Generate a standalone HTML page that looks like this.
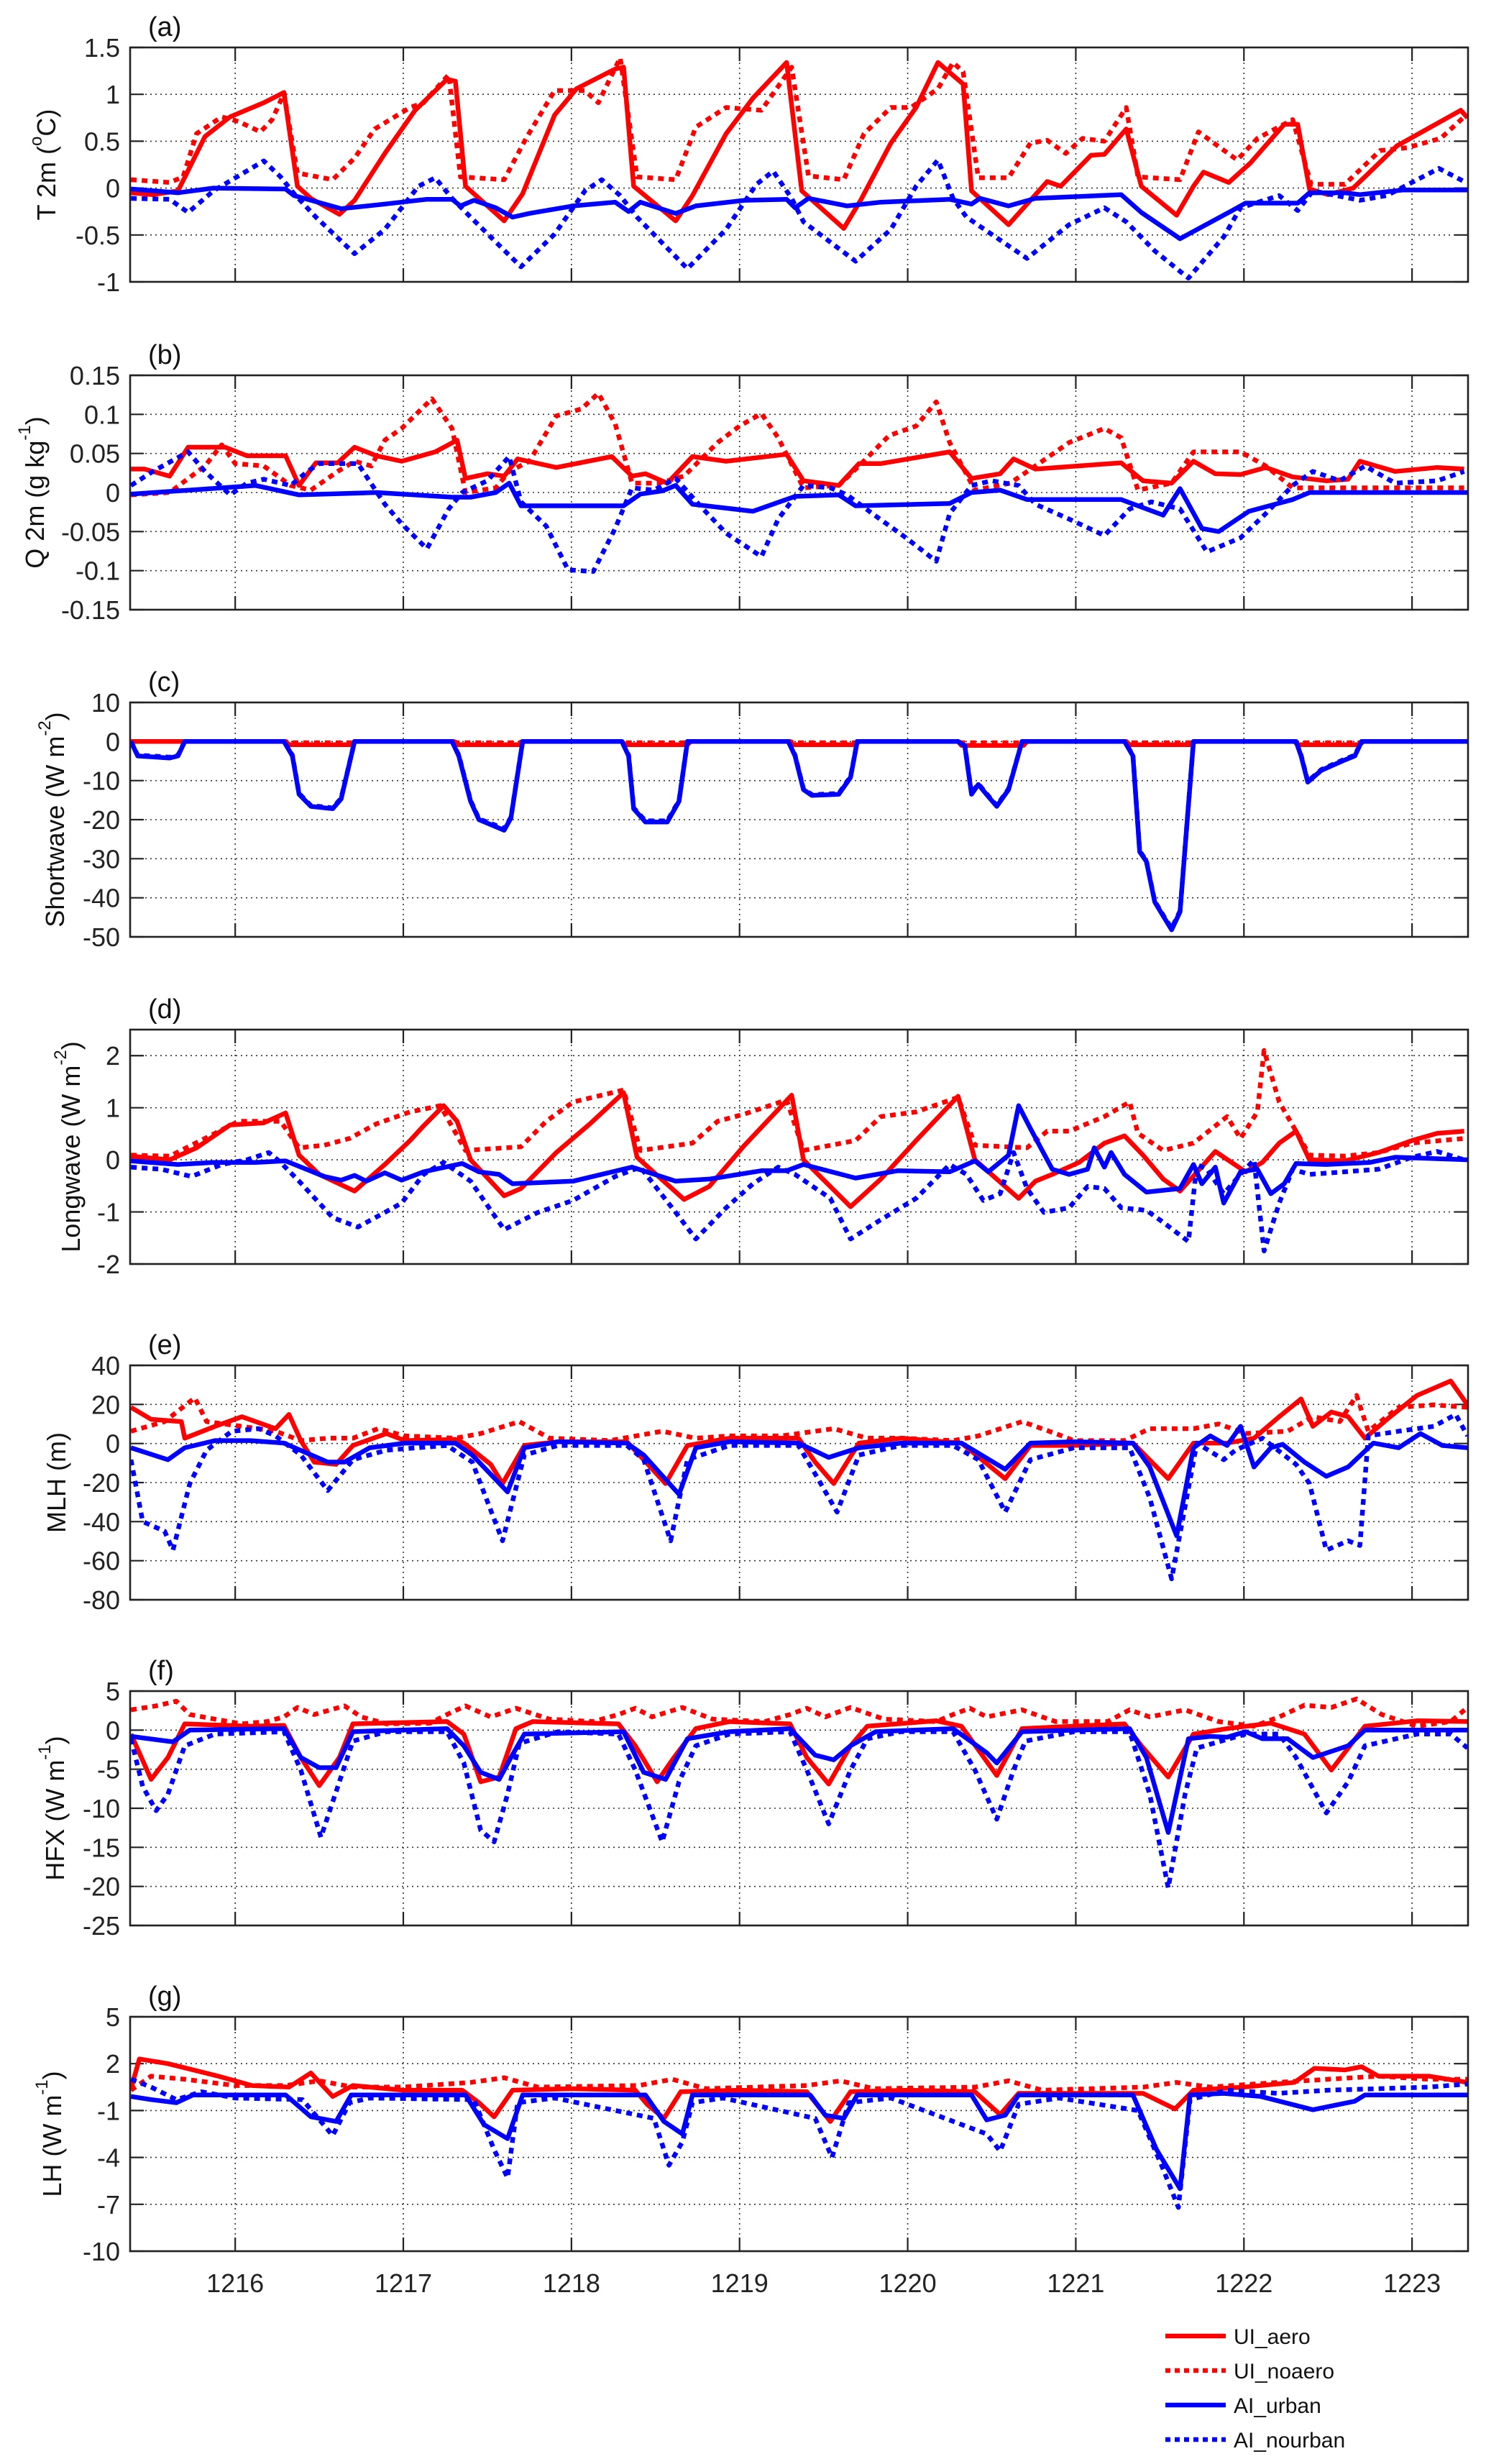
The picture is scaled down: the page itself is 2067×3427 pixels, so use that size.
<!DOCTYPE html>
<html><head><meta charset="utf-8"><title>Seven-panel time series</title>
<style>
html,body{margin:0;padding:0;background:#fff;}
svg{display:block;font-family:"Liberation Sans",Arial,sans-serif;}
</style></head>
<body>
<svg id="fig" width="2067" height="3427" viewBox="0 0 2067 3427" xmlns="http://www.w3.org/2000/svg"></svg>
<script>
// ---------- shared axis data ----------
const xTicks = [1216,1217,1218,1219,1220,1221,1222,1223];
const xMin = 1215.375, xMax = 1223.333;
const seriesNames = ["UI_aero","UI_noaero","AI_urban","AI_nourban"];

// ---------- panel (a) T 2m ----------
const aTicks = [-1,-0.5,0,0.5,1,1.5];
const aTickLabels = ["-1","-0.5","0","0.5","1","1.5"];
const aUiAero = [[1215.38,-0.05],[1215.51,-0.07],[1215.66,-0.03],[1215.82,0.55],[1215.97,0.76],[1216.17,0.91],[1216.29,1.02],[1216.37,0.02],[1216.45,-0.11],[1216.62,-0.28],[1216.71,-0.13],[1216.89,0.37],[1217.07,0.83],[1217.26,1.16],[1217.31,1.14],[1217.37,0.02],[1217.60,-0.35],[1217.71,-0.06],[1217.90,0.78],[1218.03,1.06],[1218.26,1.27],[1218.31,1.29],[1218.37,0.02],[1218.62,-0.35],[1218.72,-0.08],[1218.92,0.58],[1219.08,0.96],[1219.28,1.34],[1219.37,-0.03],[1219.62,-0.43],[1219.72,-0.13],[1219.90,0.48],[1220.05,0.86],[1220.18,1.34],[1220.33,1.11],[1220.38,-0.03],[1220.60,-0.39],[1220.83,0.07],[1220.91,0.02],[1221.09,0.35],[1221.17,0.36],[1221.30,0.63],[1221.39,0.02],[1221.60,-0.29],[1221.70,0.02],[1221.76,0.17],[1221.91,0.06],[1222.04,0.27],[1222.24,0.68],[1222.32,0.68],[1222.39,-0.01],[1222.50,-0.07],[1222.65,0.0],[1222.91,0.45],[1223.06,0.6],[1223.29,0.83],[1223.33,0.75]];
const aUiNoaero = [[1215.38,0.09],[1215.61,0.06],[1215.69,0.12],[1215.77,0.58],[1215.92,0.76],[1216.02,0.71],[1216.15,0.60],[1216.22,0.73],[1216.29,1.01],[1216.37,0.16],[1216.58,0.09],[1216.71,0.32],[1216.83,0.63],[1217.04,0.86],[1217.12,0.91],[1217.27,1.21],[1217.34,0.12],[1217.60,0.09],[1217.73,0.53],[1217.90,1.04],[1218.08,1.04],[1218.16,0.91],[1218.29,1.39],[1218.39,0.12],[1218.62,0.09],[1218.74,0.65],[1218.92,0.86],[1219.13,0.83],[1219.31,1.29],[1219.41,0.13],[1219.62,0.09],[1219.74,0.58],[1219.90,0.86],[1220.02,0.86],[1220.18,1.06],[1220.27,1.34],[1220.33,1.24],[1220.42,0.11],[1220.60,0.11],[1220.73,0.48],[1220.83,0.51],[1220.94,0.37],[1221.04,0.53],[1221.17,0.50],[1221.30,0.86],[1221.37,0.12],[1221.62,0.09],[1221.73,0.60],[1221.96,0.30],[1222.08,0.53],[1222.29,0.73],[1222.40,0.04],[1222.60,0.04],[1222.81,0.40],[1222.97,0.43],[1223.17,0.53],[1223.31,0.76]];
const aAiUrban = [[1215.38,-0.01],[1215.66,-0.05],[1215.87,0.0],[1216.30,-0.01],[1216.35,-0.08],[1216.63,-0.22],[1216.89,-0.17],[1217.14,-0.12],[1217.29,-0.12],[1217.34,-0.19],[1217.42,-0.13],[1217.55,-0.21],[1217.65,-0.31],[1217.75,-0.27],[1218.01,-0.19],[1218.26,-0.15],[1218.34,-0.25],[1218.41,-0.15],[1218.62,-0.27],[1218.74,-0.19],[1219.03,-0.13],[1219.28,-0.12],[1219.33,-0.21],[1219.41,-0.11],[1219.64,-0.19],[1219.84,-0.15],[1220.25,-0.12],[1220.38,-0.17],[1220.43,-0.11],[1220.60,-0.19],[1220.76,-0.11],[1221.27,-0.07],[1221.39,-0.26],[1221.62,-0.54],[1221.93,-0.24],[1222.01,-0.16],[1222.32,-0.16],[1222.39,-0.05],[1222.60,-0.05],[1222.69,-0.07],[1222.95,-0.02],[1223.33,-0.02]];
const aAiNourban = [[1215.38,-0.11],[1215.61,-0.12],[1215.72,-0.26],[1215.87,-0.03],[1216.17,0.29],[1216.27,0.12],[1216.35,-0.06],[1216.48,-0.31],[1216.71,-0.70],[1216.89,-0.44],[1217.09,0.02],[1217.19,0.11],[1217.29,-0.11],[1217.40,-0.31],[1217.70,-0.84],[1217.90,-0.49],[1218.08,-0.03],[1218.18,0.09],[1218.29,-0.08],[1218.39,-0.31],[1218.69,-0.86],[1218.92,-0.44],[1219.10,0.04],[1219.20,0.18],[1219.31,-0.11],[1219.38,-0.36],[1219.69,-0.78],[1219.90,-0.44],[1220.05,0.02],[1220.18,0.30],[1220.27,-0.11],[1220.35,-0.31],[1220.71,-0.75],[1220.96,-0.39],[1221.17,-0.21],[1221.30,-0.36],[1221.47,-0.67],[1221.67,-0.96],[1221.88,-0.52],[1221.98,-0.21],[1222.21,-0.08],[1222.32,-0.24],[1222.41,-0.03],[1222.69,-0.13],[1222.85,-0.08],[1223.16,0.21],[1223.31,0.07]];

// ---------- panel (b) Q 2m ----------
const bTicks = [-0.15,-0.1,-0.05,0,0.05,0.1,0.15];
const bTickLabels = ["-0.15","-0.1","-0.05","0","0.05","0.1","0.15"];
const bUiAero = [[1215.38,.030],[1215.46,.030],[1215.61,.021],[1215.72,.058],[1215.94,.058],[1216.07,.047],[1216.30,.047],[1216.38,.009],[1216.48,.038],[1216.61,.038],[1216.71,.058],[1216.84,.047],[1216.99,.040],[1217.19,.052],[1217.32,.067],[1217.37,.018],[1217.50,.024],[1217.60,.021],[1217.68,.043],[1217.91,.032],[1218.24,.046],[1218.36,.021],[1218.44,.024],[1218.57,.012],[1218.72,.046],[1218.92,.040],[1219.28,.049],[1219.38,.015],[1219.59,.009],[1219.71,.037],[1219.84,.037],[1220.25,.052],[1220.38,.018],[1220.55,.024],[1220.63,.043],[1220.76,.030],[1221.27,.038],[1221.40,.015],[1221.57,.012],[1221.70,.040],[1221.83,.024],[1221.98,.023],[1222.13,.032],[1222.29,.020],[1222.49,.015],[1222.62,.017],[1222.69,.040],[1222.90,.027],[1223.15,.032],[1223.31,.030]];
const bUiNoaero = [[1215.38,-.003],[1215.61,0],[1215.82,.034],[1215.92,.061],[1216.00,.037],[1216.17,.034],[1216.33,.009],[1216.45,.003],[1216.61,.027],[1216.71,.040],[1216.81,.034],[1216.89,.067],[1216.99,.082],[1217.17,.120],[1217.29,.082],[1217.37,0],[1217.55,.006],[1217.63,.027],[1217.75,.040],[1217.91,.098],[1218.06,.107],[1218.16,.127],[1218.26,.088],[1218.36,.012],[1218.52,.012],[1218.67,.021],[1218.87,.064],[1219.00,.085],[1219.13,.101],[1219.23,.070],[1219.38,.006],[1219.59,.009],[1219.71,.034],[1219.89,.073],[1220.05,.085],[1220.17,.116],[1220.25,.064],[1220.40,.003],[1220.61,.012],[1220.78,.037],[1220.96,.064],[1221.17,.082],[1221.27,.070],[1221.37,.003],[1221.57,.012],[1221.70,.052],[1221.98,.052],[1222.13,.034],[1222.29,.006],[1222.49,.006],[1222.69,.006],[1223.00,.006],[1223.31,.006]];
const bAiUrban = [[1215.38,-.002],[1215.66,.002],[1216.12,.009],[1216.38,-.003],[1216.84,0],[1217.29,-.006],[1217.40,-.006],[1217.55,0],[1217.63,.012],[1217.70,-.017],[1218.31,-.017],[1218.41,-.002],[1218.54,.002],[1218.62,.009],[1218.72,-.015],[1219.08,-.024],[1219.33,-.005],[1219.59,-.003],[1219.69,-.017],[1220.25,-.014],[1220.38,0],[1220.55,.003],[1220.71,-.009],[1221.27,-.009],[1221.52,-.029],[1221.62,.005],[1221.75,-.046],[1221.85,-.050],[1222.03,-.024],[1222.29,-.009],[1222.39,0],[1223.33,0]];
const bAiNourban = [[1215.38,.009],[1215.51,.027],[1215.72,.052],[1215.82,.027],[1215.97,-.003],[1216.07,.012],[1216.17,.017],[1216.33,.009],[1216.43,.027],[1216.50,.037],[1216.73,.037],[1216.89,-.015],[1216.99,-.040],[1217.14,-.072],[1217.27,-.021],[1217.35,0],[1217.50,.015],[1217.63,.046],[1217.70,-.012],[1217.85,-.043],[1217.98,-.099],[1218.13,-.101],[1218.26,-.046],[1218.36,.006],[1218.49,.003],[1218.62,.018],[1218.77,-.018],[1218.92,-.052],[1219.13,-.082],[1219.23,-.034],[1219.38,.009],[1219.54,.006],[1219.64,-.003],[1219.79,-.027],[1219.99,-.058],[1220.17,-.088],[1220.25,-.027],[1220.38,.009],[1220.50,.015],[1220.66,.009],[1220.76,-.015],[1220.96,-.034],[1221.17,-.055],[1221.32,-.021],[1221.45,-.012],[1221.62,-.021],[1221.78,-.076],[1221.98,-.058],[1222.13,-.027],[1222.29,.009],[1222.41,.027],[1222.57,.015],[1222.72,.034],[1222.90,.012],[1223.15,.015],[1223.31,.027]];

// ---------- panel (c) Shortwave ----------
const cTicks = [-50,-40,-30,-20,-10,0,10];
const cTickLabels = ["-50","-40","-30","-20","-10","0","10"];
const cUiAero = [[1215.38,0],[1216.30,0],[1216.32,-0.8],[1216.69,-0.8],[1216.71,0],[1217.30,0],[1217.32,-0.8],[1217.69,-0.8],[1217.71,0],[1218.30,0],[1218.32,-0.8],[1218.69,-0.8],[1218.71,0],[1219.30,0],[1219.32,-0.8],[1219.69,-0.8],[1219.71,0],[1220.30,0],[1220.32,-1.0],[1220.69,-1.0],[1220.71,0],[1221.30,0],[1221.32,-0.8],[1221.69,-0.8],[1221.71,0],[1222.30,0],[1222.32,-0.8],[1222.69,-0.8],[1222.71,0],[1223.33,0]];
const cUiNoaero = [[1215.38,0],[1216.30,0],[1216.32,-0.3],[1216.69,-0.3],[1216.71,0],[1217.30,0],[1217.32,-0.3],[1217.69,-0.3],[1217.71,0],[1218.30,0],[1218.32,-0.3],[1218.69,-0.3],[1218.71,0],[1219.30,0],[1219.32,-0.3],[1219.69,-0.3],[1219.71,0],[1220.30,0],[1220.32,-0.3],[1220.69,-0.3],[1220.71,0],[1221.30,0],[1221.32,-0.3],[1221.69,-0.3],[1221.71,0],[1222.30,0],[1222.32,-0.3],[1222.69,-0.3],[1222.71,0],[1223.33,0]];
const cAiUrban = [[1215.38,0],[1215.42,-3.7],[1215.61,-4.2],[1215.66,-3.7],[1215.70,0],[1216.29,0],[1216.34,-3.7],[1216.38,-13.5],[1216.45,-16.6],[1216.58,-17.2],[1216.63,-14.7],[1216.71,0],[1217.29,0],[1217.33,-3.7],[1217.40,-15.3],[1217.45,-20],[1217.60,-22.7],[1217.64,-19.6],[1217.71,0],[1218.30,0],[1218.34,-3.7],[1218.37,-17.2],[1218.44,-20.6],[1218.57,-20.6],[1218.64,-15.3],[1218.69,0],[1219.29,0],[1219.33,-3.7],[1219.38,-12.3],[1219.43,-13.8],[1219.59,-13.5],[1219.66,-9.2],[1219.70,0],[1220.30,0],[1220.34,-1.2],[1220.38,-13.5],[1220.42,-11],[1220.48,-14.1],[1220.53,-16.6],[1220.60,-12.3],[1220.68,0],[1221.29,0],[1221.34,-3.7],[1221.38,-28.2],[1221.42,-30.7],[1221.47,-41.1],[1221.53,-45.4],[1221.57,-48.2],[1221.62,-43.6],[1221.70,0],[1222.31,0],[1222.34,-3.7],[1222.38,-10.4],[1222.46,-7.4],[1222.59,-4.9],[1222.66,-3.7],[1222.70,0],[1223.33,0]];
const cAiNourban = [[1215.38,0],[1215.42,-3.5],[1215.61,-4.0],[1215.66,-3.5],[1215.70,0],[1216.29,0],[1216.34,-3.5],[1216.38,-13.3],[1216.45,-16.4],[1216.58,-17.0],[1216.63,-14.5],[1216.71,0],[1217.29,0],[1217.33,-3.5],[1217.40,-15.1],[1217.45,-19.8],[1217.60,-22.3],[1217.64,-19.4],[1217.71,0],[1218.30,0],[1218.34,-3.5],[1218.37,-17.0],[1218.44,-20.3],[1218.57,-20.3],[1218.64,-15.1],[1218.69,0],[1219.29,0],[1219.33,-3.5],[1219.38,-12.1],[1219.43,-13.6],[1219.59,-13.3],[1219.66,-9.0],[1219.70,0],[1220.30,0],[1220.34,-1.0],[1220.38,-13.3],[1220.42,-10.8],[1220.48,-13.9],[1220.53,-16.4],[1220.60,-12.1],[1220.68,0],[1221.29,0],[1221.34,-3.5],[1221.38,-28.0],[1221.42,-30.5],[1221.47,-40.9],[1221.53,-45.2],[1221.57,-47.8],[1221.62,-43.4],[1221.70,0],[1222.31,0],[1222.34,-3.5],[1222.38,-10.2],[1222.46,-7.2],[1222.59,-4.7],[1222.66,-3.5],[1222.70,0],[1223.33,0]];

// ---------- panel (d) Longwave ----------
const dTicks = [-2,-1,0,1,2];
const dTickLabels = ["-2","-1","0","1","2"];
const dUiAero = [[1215.38,.07],[1215.61,0],[1215.77,.23],[1215.97,.67],[1216.17,.71],[1216.30,.9],[1216.38,.09],[1216.50,-.28],[1216.71,-.6],[1216.89,-.09],[1217.04,.37],[1217.12,.65],[1217.24,1.04],[1217.32,.74],[1217.40,0],[1217.60,-.69],[1217.70,-.55],[1217.91,.14],[1218.11,.69],[1218.31,1.29],[1218.39,.05],[1218.67,-.76],[1218.82,-.51],[1219.03,.28],[1219.31,1.24],[1219.38,0],[1219.66,-.9],[1219.84,-.37],[1220.05,.37],[1220.30,1.22],[1220.40,0],[1220.66,-.74],[1220.76,-.41],[1220.86,-.28],[1221.02,-.05],[1221.17,.32],[1221.29,.46],[1221.40,.09],[1221.52,-.37],[1221.62,-.6],[1221.83,.16],[1222.01,-.23],[1222.11,-.05],[1222.21,.32],[1222.31,.55],[1222.39,0],[1222.60,-.02],[1222.80,.14],[1223.00,.37],[1223.15,.51],[1223.31,.55]];
const dUiNoaero = [[1215.38,.09],[1215.61,.07],[1215.82,.41],[1216.02,.74],[1216.27,.74],[1216.38,.23],[1216.53,.28],[1216.68,.41],[1216.84,.69],[1217.04,.92],[1217.22,1.04],[1217.37,.18],[1217.70,.25],[1217.85,.74],[1218.01,1.11],[1218.31,1.34],[1218.41,.18],[1218.72,.32],[1218.87,.74],[1219.03,.88],[1219.28,1.15],[1219.38,.18],[1219.69,.37],[1219.84,.83],[1220.05,.92],[1220.30,1.20],[1220.40,.28],[1220.71,.23],[1220.83,.55],[1220.96,.55],[1221.17,.83],[1221.32,1.11],[1221.37,.51],[1221.52,.18],[1221.70,.32],[1221.90,.83],[1221.98,.41],[1222.08,.92],[1222.12,2.10],[1222.21,1.11],[1222.31,.55],[1222.39,.09],[1222.60,.07],[1222.80,.14],[1223.00,.32],[1223.31,.41]];
const dAiUrban = [[1215.38,-.02],[1215.66,-.09],[1215.87,-.05],[1216.12,-.05],[1216.30,-.02],[1216.53,-.32],[1216.63,-.39],[1216.71,-.30],[1216.78,-.41],[1216.89,-.25],[1216.99,-.39],[1217.12,-.23],[1217.35,-.07],[1217.45,-.23],[1217.57,-.28],[1217.65,-.46],[1218.01,-.41],[1218.36,-.14],[1218.62,-.41],[1218.82,-.37],[1219.13,-.21],[1219.28,-.21],[1219.38,-.09],[1219.69,-.35],[1219.94,-.21],[1220.25,-.23],[1220.40,-.02],[1220.48,-.23],[1220.60,.09],[1220.66,1.04],[1220.73,.60],[1220.86,-.18],[1220.96,-.28],[1221.07,-.18],[1221.11,.23],[1221.17,-.14],[1221.21,.14],[1221.29,-.28],[1221.42,-.62],[1221.62,-.55],[1221.70,-.09],[1221.75,-.46],[1221.83,-.14],[1221.88,-.83],[1221.98,-.23],[1222.08,-.18],[1222.16,-.65],[1222.24,-.46],[1222.31,-.07],[1222.49,-.09],[1222.75,-.05],[1222.90,.05],[1223.33,0]];
const dAiNourban = [[1215.38,-.14],[1215.56,-.18],[1215.74,-.32],[1215.92,-.09],[1216.07,0],[1216.20,.14],[1216.27,-.05],[1216.38,-.41],[1216.58,-1.11],[1216.73,-1.29],[1216.89,-1.01],[1216.99,-.83],[1217.12,-.28],[1217.24,-.05],[1217.40,-.41],[1217.60,-1.34],[1217.80,-1.01],[1218.01,-.78],[1218.26,-.32],[1218.41,-.14],[1218.62,-1.01],[1218.74,-1.52],[1218.92,-.92],[1219.08,-.46],[1219.23,-.14],[1219.33,-.28],[1219.54,-.74],[1219.66,-1.52],[1219.84,-1.15],[1220.05,-.74],[1220.25,-.09],[1220.35,-.28],[1220.45,-.78],[1220.55,-.65],[1220.63,.14],[1220.71,-.55],[1220.81,-1.01],[1220.96,-.92],[1221.07,-.51],[1221.17,-.55],[1221.27,-.92],[1221.42,-.97],[1221.52,-1.20],[1221.67,-1.57],[1221.72,-.09],[1221.78,-.18],[1221.88,-.65],[1221.98,-.28],[1222.06,0],[1222.12,-1.75],[1222.21,-.83],[1222.29,-.18],[1222.39,-.28],[1222.60,-.23],[1222.80,-.18],[1223.00,.05],[1223.15,.16],[1223.31,0]];

// ---------- panel (e) MLH ----------
const eTicks = [-80,-60,-40,-20,0,20,40];
const eTickLabels = ["-80","-60","-40","-20","0","20","40"];
const eUiAero = [[1215.38,18.5],[1215.50,12.4],[1215.68,11.2],[1215.70,2.7],[1215.88,8.8],[1216.04,13.7],[1216.24,7.6],[1216.32,14.9],[1216.39,1.5],[1216.47,-9.5],[1216.60,-10.7],[1216.70,-1],[1216.90,5.1],[1217.01,1.5],[1217.31,2.1],[1217.36,0.2],[1217.52,-10.7],[1217.59,-20.5],[1217.72,-1],[1217.92,0.9],[1218.33,0.9],[1218.43,-8.3],[1218.56,-20.5],[1218.69,-1],[1218.94,2.7],[1219.35,2.7],[1219.45,-9.5],[1219.56,-20.5],[1219.71,0.2],[1219.96,2.7],[1220.32,0.2],[1220.58,-18],[1220.73,-1],[1220.99,-1],[1221.34,0.2],[1221.55,-18],[1221.70,0.2],[1221.90,0.2],[1222.06,2.7],[1222.21,13.7],[1222.34,22.8],[1222.41,8.8],[1222.52,16.1],[1222.62,13.7],[1222.72,2.7],[1222.87,13.7],[1223.03,24.6],[1223.23,32],[1223.33,19.8]];
const eUiNoaero = [[1215.38,6.3],[1215.58,11.2],[1215.76,23.4],[1215.83,11.2],[1216.04,8.8],[1216.24,6.3],[1216.39,1.5],[1216.55,2.7],[1216.70,2.7],[1216.85,7.6],[1217.01,3.9],[1217.31,2.7],[1217.46,5.1],[1217.69,11.2],[1217.87,2.7],[1218.23,1.5],[1218.54,6.3],[1218.74,2.7],[1218.94,3.9],[1219.25,3.9],[1219.56,7.6],[1219.76,2.7],[1219.96,2.7],[1220.27,1.5],[1220.42,3.9],[1220.68,11.2],[1220.88,5.1],[1220.99,1.5],[1221.29,1.5],[1221.44,7.6],[1221.70,7.6],[1221.85,10],[1222.01,5.1],[1222.26,6.3],[1222.41,13.7],[1222.57,11.2],[1222.67,24.6],[1222.74,6.3],[1222.92,18.5],[1223.13,19.8],[1223.33,18.5]];
const eAiUrban = [[1215.38,-2.2],[1215.60,-8.3],[1215.70,-2.2],[1215.88,1.5],[1216.09,1.5],[1216.29,0.2],[1216.55,-9.5],[1216.65,-9.5],[1216.80,-2.2],[1217.01,0.2],[1217.31,0.2],[1217.41,-5.9],[1217.62,-24.8],[1217.72,-2.2],[1217.92,0.9],[1218.33,0.2],[1218.43,-5.9],[1218.64,-26],[1218.74,-2.2],[1218.94,0.9],[1219.35,0.2],[1219.53,-7.1],[1219.71,-2.2],[1219.96,0.2],[1220.32,0.2],[1220.58,-13.2],[1220.73,0.2],[1220.99,0.9],[1221.34,0.2],[1221.44,-12],[1221.60,-47.3],[1221.70,-2.2],[1221.80,3.9],[1221.90,-1],[1221.98,8.8],[1222.06,-12],[1222.16,-2.2],[1222.23,-0.4],[1222.36,-9.5],[1222.49,-16.8],[1222.62,-12],[1222.77,0.2],[1222.92,-2.2],[1223.05,5.1],[1223.18,-1],[1223.33,-2.2]];
const eAiNourban = [[1215.38,-8.3],[1215.45,-40],[1215.58,-44.9],[1215.63,-54.6],[1215.73,-20.5],[1215.83,-3.4],[1215.98,6.3],[1216.14,7.6],[1216.24,3.9],[1216.39,-5.9],[1216.55,-24.1],[1216.70,-8.3],[1216.90,-3.4],[1217.26,-1],[1217.41,-9.5],[1217.59,-49.8],[1217.72,-5.9],[1217.92,-1],[1218.33,-1],[1218.43,-8.3],[1218.59,-49.8],[1218.69,-8.3],[1218.94,-1],[1219.35,-1],[1219.45,-15.6],[1219.58,-35.1],[1219.71,-5.9],[1219.96,-1],[1220.27,-1],[1220.42,-8.3],[1220.58,-35.1],[1220.73,-8.3],[1220.99,-2.2],[1221.32,-2.2],[1221.44,-27.8],[1221.57,-69.3],[1221.72,0.2],[1221.88,-8.3],[1221.95,-3.4],[1222.11,2.7],[1222.31,-10.7],[1222.39,-20.5],[1222.49,-54.6],[1222.62,-49.8],[1222.69,-52.2],[1222.74,3.9],[1222.92,6.3],[1223.13,8.8],[1223.26,14.9],[1223.33,3.9]];

// ---------- panel (f) HFX ----------
const fTicks = [-25,-20,-15,-10,-5,0,5];
const fTickLabels = ["-25","-20","-15","-10","-5","0","5"];
const fUiAero = [[1215.38,-0.5],[1215.50,-6.3],[1215.60,-3.5],[1215.70,0.8],[1216.09,0.5],[1216.29,0.6],[1216.39,-3.5],[1216.50,-7.1],[1216.62,-3.5],[1216.70,0.8],[1217.26,1.1],[1217.36,-0.5],[1217.46,-6.6],[1217.57,-6],[1217.67,0.2],[1217.77,1.1],[1218.28,0.8],[1218.38,-2],[1218.51,-6.6],[1218.61,-3.5],[1218.74,0.2],[1218.94,1.1],[1219.30,0.8],[1219.40,-3.5],[1219.53,-6.9],[1219.66,-2],[1219.76,0.5],[1220.17,1.2],[1220.32,0.5],[1220.53,-5.8],[1220.68,0.2],[1221.29,0.8],[1221.39,-2],[1221.55,-6],[1221.70,-0.5],[1221.90,0.2],[1222.16,0.9],[1222.36,-0.5],[1222.52,-5.1],[1222.72,0.5],[1223.03,1.2],[1223.33,1.1]];
const fUiNoaero = [[1215.38,2.6],[1215.53,3.1],[1215.65,3.7],[1215.73,2],[1215.88,1.4],[1216.04,0.8],[1216.19,1.1],[1216.29,1.7],[1216.37,2.9],[1216.47,2],[1216.65,3.1],[1216.75,1.7],[1216.90,0.8],[1217.16,0.9],[1217.26,2],[1217.37,3.1],[1217.52,1.7],[1217.67,2.8],[1217.87,1.4],[1218.13,1.1],[1218.28,2],[1218.38,2.8],[1218.48,1.7],[1218.66,2.9],[1218.84,1.4],[1219.15,1.1],[1219.30,2],[1219.40,2.8],[1219.51,1.7],[1219.66,2.9],[1219.86,1.4],[1220.17,1.1],[1220.27,2],[1220.37,2.8],[1220.47,1.7],[1220.68,2.6],[1220.88,1.1],[1221.19,1.1],[1221.32,2.6],[1221.44,1.7],[1221.65,2.6],[1221.85,1.1],[1222.06,0.5],[1222.21,1.7],[1222.36,3.2],[1222.52,2.9],[1222.67,4],[1222.82,2],[1223.03,0.5],[1223.23,1.1],[1223.33,2.9]];
const fAiUrban = [[1215.38,-0.8],[1215.63,-1.5],[1215.73,0],[1216.29,0.2],[1216.39,-3.5],[1216.50,-4.8],[1216.60,-4.8],[1216.70,-0.2],[1217.26,0.2],[1217.36,-2],[1217.46,-5.4],[1217.57,-6.3],[1217.64,-3.5],[1217.72,-0.5],[1218.31,-0.2],[1218.43,-5.4],[1218.56,-6.3],[1218.69,-1.1],[1218.94,-0.2],[1219.30,0.2],[1219.45,-3.2],[1219.56,-3.8],[1219.66,-2],[1219.81,-0.2],[1220.27,0.2],[1220.47,-2.9],[1220.53,-4.2],[1220.68,-0.2],[1221.32,0.2],[1221.42,-3.5],[1221.55,-13.1],[1221.67,-1.1],[1221.80,-0.8],[1221.90,-0.9],[1222.01,-0.2],[1222.11,-1.1],[1222.26,-1.1],[1222.41,-3.5],[1222.62,-2],[1222.72,0],[1223.33,0]];
const fAiNourban = [[1215.38,-1.1],[1215.45,-7.2],[1215.53,-10.3],[1215.60,-8.2],[1215.70,-2],[1215.88,-0.5],[1216.29,-0.2],[1216.39,-5.1],[1216.51,-13.7],[1216.62,-6.6],[1216.70,-1.4],[1216.90,-0.2],[1217.26,-0.2],[1217.36,-4.2],[1217.46,-12.8],[1217.54,-14.3],[1217.62,-8.2],[1217.69,-1.7],[1217.92,-0.2],[1218.28,-0.5],[1218.38,-5.1],[1218.54,-14.3],[1218.64,-6.6],[1218.74,-2],[1218.94,-0.5],[1219.30,-0.2],[1219.40,-5.1],[1219.53,-12],[1219.66,-5.1],[1219.76,-1.1],[1219.96,-0.2],[1220.27,-0.2],[1220.40,-5.1],[1220.53,-11.4],[1220.63,-5.1],[1220.70,-1.4],[1220.99,-0.2],[1221.32,-0.2],[1221.44,-8.2],[1221.55,-20.2],[1221.65,-8.2],[1221.72,-2.3],[1222.01,-0.5],[1222.21,-0.5],[1222.31,-3.5],[1222.49,-10.6],[1222.62,-6.6],[1222.72,-2],[1223.03,-0.5],[1223.23,-0.5],[1223.33,-2.3]];

// ---------- panel (g) LH ----------
const gTicks = [-10,-7,-4,-1,2,5];
const gTickLabels = ["-10","-7","-4","-1","2","5"];
const gUiAero = [[1215.38,0.4],[1215.43,2.3],[1215.6,2.0],[1215.9,1.2],[1216.1,0.6],[1216.32,0.5],[1216.45,1.4],[1216.58,-0.1],[1216.7,0.6],[1217.0,0.3],[1217.35,0.3],[1217.45,-0.5],[1217.54,-1.4],[1217.65,0.3],[1218.0,0.4],[1218.38,0.3],[1218.45,-0.6],[1218.55,-1.5],[1218.65,0.2],[1219.0,0.3],[1219.4,0.2],[1219.54,-1.7],[1219.66,0.2],[1220.0,0.3],[1220.4,0.2],[1220.55,-1.26],[1220.66,0.1],[1221.0,0.1],[1221.4,0.1],[1221.59,-0.9],[1221.7,0.3],[1222.0,0.5],[1222.3,0.8],[1222.42,1.7],[1222.6,1.6],[1222.7,1.8],[1222.8,1.2],[1223.1,1.2],[1223.33,0.8]];
const gUiNoaero = [[1215.38,0.3],[1215.5,1.2],[1215.7,1.0],[1216.0,0.6],[1216.3,0.6],[1216.5,0.9],[1216.7,0.5],[1217.0,0.5],[1217.4,0.8],[1217.6,1.1],[1217.8,0.5],[1218.4,0.6],[1218.6,1.0],[1218.8,0.4],[1219.4,0.6],[1219.6,0.9],[1219.8,0.4],[1220.4,0.5],[1220.6,0.9],[1220.8,0.3],[1221.4,0.5],[1221.6,0.8],[1221.8,0.5],[1222.2,0.8],[1222.5,1.0],[1222.8,1.2],[1223.1,1.0],[1223.33,1.0]];
const gAiUrban = [[1215.38,-0.1],[1215.5,-0.3],[1215.65,-0.5],[1215.75,0.0],[1216.3,0.0],[1216.45,-1.4],[1216.6,-1.7],[1216.69,0.0],[1217.37,0.0],[1217.48,-1.9],[1217.62,-2.8],[1217.71,0.0],[1218.44,0.0],[1218.55,-1.7],[1218.66,-2.5],[1218.72,0.0],[1219.42,0.0],[1219.51,-1.3],[1219.62,-1.5],[1219.7,0.0],[1220.38,0.0],[1220.47,-1.6],[1220.58,-1.3],[1220.66,0.0],[1221.34,0.0],[1221.48,-3.5],[1221.62,-6.0],[1221.68,0.0],[1221.88,0.1],[1222.1,-0.1],[1222.41,-0.95],[1222.66,-0.4],[1222.72,0.0],[1223.33,0.0]];
const gAiNourban = [[1215.38,1.0],[1215.5,0.5],[1215.65,-0.3],[1215.8,0.2],[1216.0,-0.2],[1216.4,-0.3],[1216.58,-2.6],[1216.68,-0.5],[1216.8,-0.2],[1217.42,-0.3],[1217.54,-3.5],[1217.62,-5.3],[1217.68,-0.5],[1217.9,-0.2],[1218.49,-1.5],[1218.58,-4.5],[1218.66,-3.0],[1218.72,-0.5],[1218.9,-0.2],[1219.45,-1.5],[1219.55,-4.0],[1219.65,-0.5],[1219.9,-0.2],[1220.47,-2.5],[1220.55,-3.6],[1220.66,-0.6],[1220.9,-0.2],[1221.37,-1.0],[1221.51,-4.5],[1221.61,-7.2],[1221.68,-0.3],[1221.9,0.3],[1222.2,0.1],[1222.5,0.3],[1222.8,0.4],[1223.1,0.5],[1223.33,0.7]];

// ---------- rendering ----------
const NS = "http://www.w3.org/2000/svg";
const svg = document.getElementById("fig");
const L = 181, R = 2042, H = 326;
const colors = ["#ff0000","#ff0000","#0000ff","#0000ff"];
const dashes = [null,"8 7",null,"8 7"];

function mk(tag, attrs, parent){
  const e = document.createElementNS(NS, tag);
  for (const k in attrs) e.setAttribute(k, attrs[k]);
  (parent||svg).appendChild(e);
  return e;
}
function xScale(t){ return L + (t - xMin) / (xMax - xMin) * (R - L); }

const panels = [
  {id:"a", top:66,  min:-1,   max:1.5,  ticks:aTicks, labels:aTickLabels, series:[aUiAero,aUiNoaero,aAiUrban,aAiNourban], yl:[["T 2m (",0],["o",1],["C)",0]], ylx:64},
  {id:"b", top:522, min:-0.15,max:0.15, ticks:bTicks, labels:bTickLabels, series:[bUiAero,bUiNoaero,bAiUrban,bAiNourban], yl:[["Q 2m (g kg",0],["-1",1],[")",0]], ylx:48},
  {id:"c", top:977, min:-50,  max:10,   ticks:cTicks, labels:cTickLabels, series:[cUiAero,cUiNoaero,cAiUrban,cAiNourban], yl:[["Shortwave  (W m",0],["-2",1],[")",0]], ylx:76},
  {id:"d", top:1432,min:-2,   max:2.5,  ticks:dTicks, labels:dTickLabels, series:[dUiAero,dUiNoaero,dAiUrban,dAiNourban], yl:[["Longwave  (W m",0],["-2",1],[")",0]], ylx:98},
  {id:"e", top:1899,min:-80,  max:40,   ticks:eTicks, labels:eTickLabels, series:[eUiAero,eUiNoaero,eAiUrban,eAiNourban], yl:[["MLH (m)",0]], ylx:78},
  {id:"f", top:2352,min:-25,  max:5,    ticks:fTicks, labels:fTickLabels, series:[fUiAero,fUiNoaero,fAiUrban,fAiNourban], yl:[["HFX (W m",0],["-1",1],[")",0]], ylx:76},
  {id:"g", top:2805,min:-10,  max:5,    ticks:gTicks, labels:gTickLabels, series:[gUiAero,gUiNoaero,gAiUrban,gAiNourban], yl:[["LH (W m",0],["-1",1],[")",0]], ylx:72}
];

panels.forEach((p, pi) => {
  const top = p.top, bot = top + H;
  const yScale = v => bot - (v - p.min) / (p.max - p.min) * H;
  const g = mk("g", {});
  
  

  const cp = mk("clipPath", {id:"clip"+p.id}, g);
  mk("rect", {x:L, y:top, width:R-L, height:H}, cp);

  const grid = mk("g", {stroke:"#333", "stroke-width":"1.6", "stroke-dasharray":"2 5"}, g);
  
  
  xTicks.forEach(t => { const x = xScale(t); mk("line", {x1:x, x2:x, y1:top, y2:bot}, grid); });
  p.ticks.forEach(v => { const y = yScale(v); if (y > top + 1 && y < bot - 1) mk("line", {x1:L, x2:R, y1:y, y2:y}, grid); });

  const tk = mk("g", {stroke:"#222", "stroke-width":"2.2"}, g);
  
  
  xTicks.forEach(t => { const x = xScale(t);
    mk("line", {x1:x, x2:x, y1:bot, y2:bot-19}, tk);
    mk("line", {x1:x, x2:x, y1:top, y2:top+19}, tk); });
  p.ticks.forEach(v => { const y = yScale(v);
    mk("line", {x1:L, x2:L+19, y1:y, y2:y}, tk);
    mk("line", {x1:R, x2:R-19, y1:y, y2:y}, tk); });

  p.ticks.forEach((v, i) => {
    const t = mk("text", {x:167, y:yScale(v)+13, "text-anchor":"end", "font-size":"36", fill:"#222"}, g);
    t.textContent = p.labels[i];
    
    
  });

  p.series.forEach((s, si) => {
    const d = s.map((pt, i) => (i ? "L" : "M") + xScale(pt[0]).toFixed(1) + " " + yScale(pt[1]).toFixed(1)).join(" ");
    const attrs = {d:d, fill:"none", stroke:colors[si], "stroke-width":"6.5", "stroke-linejoin":"round", "clip-path":"url(#clip"+p.id+")"};
    if (dashes[si]) attrs["stroke-dasharray"] = dashes[si];
    const path = mk("path", attrs, g);
    
    
  });

  const box = mk("rect", {x:L, y:top, width:R-L, height:H, fill:"none", stroke:"#222", "stroke-width":"2.6"}, g);
  
  

  const pl = mk("text", {x:206, y:top-16, "font-size":"38", fill:"#111"}, g);
  pl.textContent = "(" + p.id + ")";
  
  

  const cy = top + H/2;
  const yl = mk("text", {x:p.ylx, y:cy, "font-size":"36", fill:"#111", "text-anchor":"middle", transform:"rotate(-90 "+p.ylx+" "+cy+")", "dominant-baseline":"central"}, g);
  
  
  p.yl.forEach(part => {
    const ts = mk("tspan", {}, yl);
    ts.textContent = part[0];
    if (part[1]) { ts.setAttribute("baseline-shift","super"); ts.setAttribute("font-size","24"); }
  });

  if (pi === panels.length - 1) {
    xTicks.forEach(t => {
      const xl = mk("text", {x:xScale(t), y:bot+57, "text-anchor":"middle", "font-size":"36", fill:"#222"}, g);
      xl.textContent = String(t);
      
      
    });
  }
});

const legY = [3249, 3297, 3345, 3393];
const leg = mk("g", {});


seriesNames.forEach((n, i) => {
  const ln = mk("line", {x1:1621, x2:1705, y1:legY[i], y2:legY[i], stroke:colors[i], "stroke-width":"6.5"}, leg);
  if (dashes[i]) ln.setAttribute("stroke-dasharray", "7 6");
  
  
  const tx = mk("text", {x:1716, y:legY[i]+11, "font-size":"30", fill:"#111"}, leg);
  tx.textContent = n;
  
  
});
</script>
</body></html>
